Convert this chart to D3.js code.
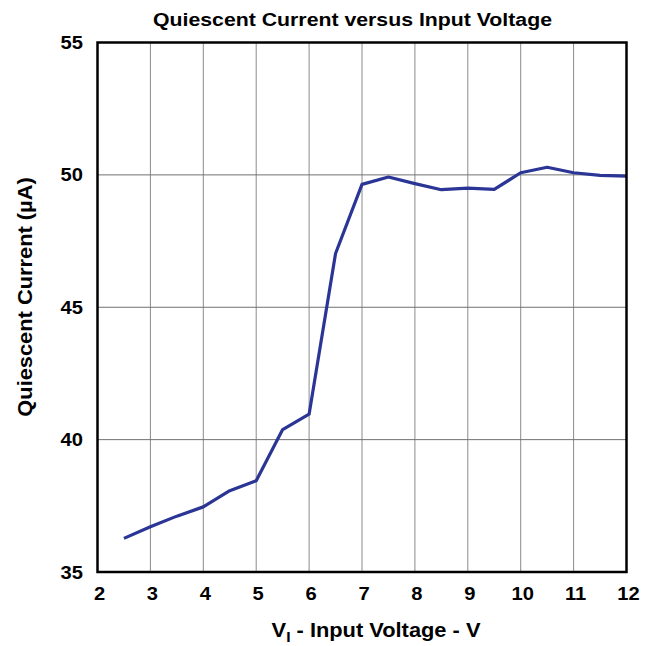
<!DOCTYPE html>
<html>
<head>
<meta charset="utf-8">
<script src="https://d3js.org/d3.v7.min.js"></script>
<style>
  body { margin: 0; background: #fff; }
  text { font-family: "Liberation Sans", Arial, sans-serif; font-weight: bold; }
</style>
</head>
<body>
<div id="vis"></div>
<script>
// input voltage (V) and quiescent current (uA)
const voltage = [2.5, 3, 3.5, 4, 4.5, 5, 5.5, 6, 6.5, 7, 7.5, 8, 8.5, 9, 9.5, 10, 10.5, 11, 11.5, 12];
const current = [36.27, 36.71, 37.11, 37.46, 38.07, 38.45, 40.38, 40.96, 47.03, 49.64, 49.92, 49.67, 49.44, 49.50, 49.45, 50.08, 50.29, 50.08, 49.98, 49.95];
const xTicks = [2, 3, 4, 5, 6, 7, 8, 9, 10, 11, 12];
const yTicks = [35, 40, 45, 50, 55];

const width = 652, height = 646;
const margin = {top: 42.5, right: 25.5, bottom: 74, left: 97.5};
const sx = 1.12; // text in the original is a bit wider than Arial

const svg = d3.select('#vis').append('svg').attr('width', width).attr('height', height);

const x = d3.scaleLinear().domain([2, 12]).range([margin.left, width - margin.right]);
const y = d3.scaleLinear().domain([35, 55]).range([height - margin.bottom, margin.top]);

// grid
svg.append('g').selectAll('line').data(xTicks.slice(1, -1)).join('line')
    .attr('x1', d => x(d)).attr('x2', d => x(d))
    .attr('y1', y(55)).attr('y2', y(35))
    .attr('stroke', '#8a8a8a').attr('stroke-width', 1);
svg.append('g').selectAll('line').data(yTicks.slice(1, -1)).join('line')
    .attr('x1', x(2)).attr('x2', x(12))
    .attr('y1', d => y(d)).attr('y2', d => y(d))
    .attr('stroke', '#707070').attr('stroke-width', 1);

// series
const line = d3.line().x((d, i) => x(voltage[i])).y(d => y(d));
svg.append('path')
    .datum(current)
    .attr('d', line)
    .attr('fill', 'none')
    .attr('stroke', '#2a3595')
    .attr('stroke-width', 3.2)
    .attr('stroke-linejoin', 'round');

// frame
svg.append('rect')
    .attr('x', x(2)).attr('y', y(55))
    .attr('width', x(12) - x(2)).attr('height', y(35) - y(55))
    .attr('fill', 'none').attr('stroke', '#000').attr('stroke-width', 2.5);

// tick labels
svg.append('g').selectAll('text').data(xTicks).join('text')
    .attr('transform', d => `translate(${x(d) + 2},600) scale(${sx},1)`)
    .attr('text-anchor', 'middle')
    .attr('font-size', 18)
    .text(d => d);
svg.append('g').selectAll('text').data(yTicks).join('text')
    .attr('transform', d => `translate(83,${y(d) + 6.5}) scale(${sx},1)`)
    .attr('text-anchor', 'end')
    .attr('font-size', 18)
    .text(d => d);

// title
svg.append('text')
    .attr('transform', `translate(352.5,26) scale(${sx},1)`)
    .attr('text-anchor', 'middle')
    .attr('font-size', 19)
    .text('Quiescent Current versus Input Voltage');

// x label
const xl = svg.append('text')
    .attr('transform', `translate(376,637) scale(${sx},1)`)
    .attr('text-anchor', 'middle')
    .attr('font-size', 19.5);
xl.append('tspan').text('V');
xl.append('tspan').attr('dy', 5).attr('font-size', 14).text('I');
xl.append('tspan').attr('dy', -5).text(' - Input Voltage - V');

// y label
svg.append('text')
    .attr('transform', `translate(32,297) rotate(-90) scale(${sx},1)`)
    .attr('text-anchor', 'middle')
    .attr('font-size', 19.5)
    .text('Quiescent Current (µA)');
</script>
</body>
</html>
